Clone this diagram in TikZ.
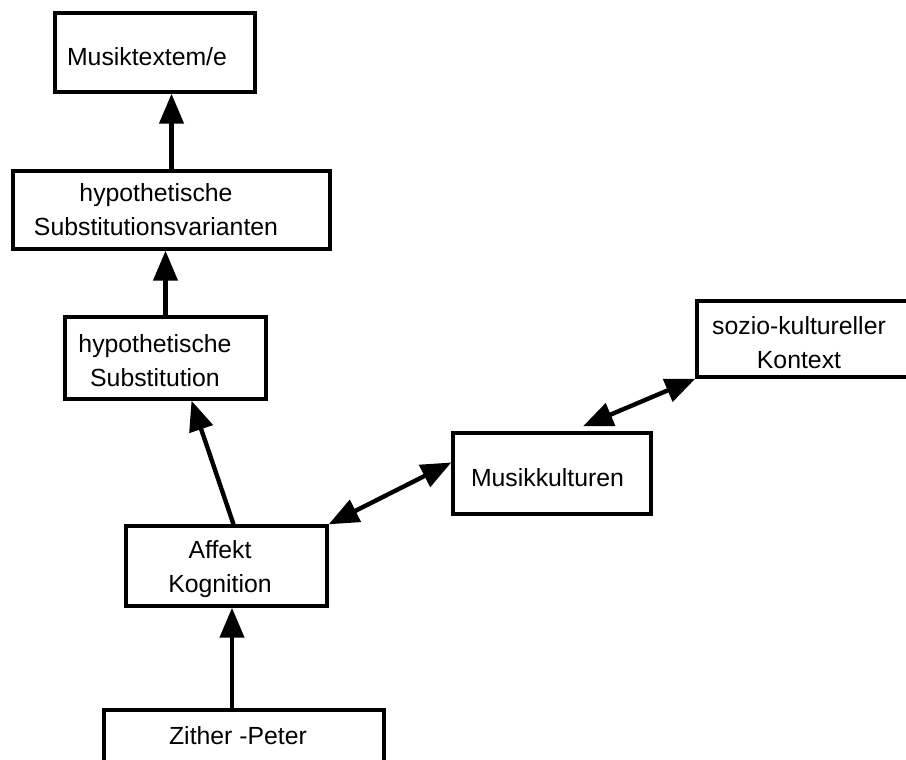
\documentclass[tikz,border=0pt]{standalone}
\usepackage{fontspec}
\setmainfont{Liberation Sans}
\usetikzlibrary{arrows.meta}
\definecolor{inkblack}{RGB}{0,0,0}

\begin{document}
\begin{tikzpicture}[x=1pt, y=-1pt,
  box/.style={draw=inkblack, line width=3.4pt, inner sep=0pt},
  txt/.style={font=\fontsize{24.8}{34}\selectfont, align=center, inner sep=0pt},
  arr/.style={draw=inkblack, line width=4.4pt, -{Triangle[length=30pt,width=24pt]}},
  darr/.style={draw=inkblack, line width=4.4pt, {Triangle[length=30pt,width=24pt]}-{Triangle[length=30pt,width=24pt]}}]
  \useasboundingbox (0,0) rectangle (906,760);
  % Boxes
  \node[box, minimum width=200pt, minimum height=79pt] (mte) at (155,52.5) {};
  \node[box, minimum width=317pt, minimum height=78pt] (hsv) at (171.5,210) {};
  \node[box, minimum width=201pt, minimum height=82pt] (hs) at (165.5,358) {};
  \node[box, minimum width=201pt, minimum height=80pt] (ak) at (226.5,566) {};
  \node[box, minimum width=198pt, minimum height=81pt] (mk) at (552,473.5) {};
  \node[box, minimum width=223pt, minimum height=76pt] (skk) at (808.5,339) {};
  \node[box, minimum width=280pt, minimum height=80pt] (zp) at (244,750) {};
  % Texts
  \node[txt] (mte-t) at (147,57) {Musiktextem/e};
  \node[txt] (hsv-t) at (156,209.5) {hypothetische\\Substitutionsvarianten};
  \node[txt] (hs-t) at (155,361) {hypothetische\\Substitution};
  \node[txt] (ak-t) at (220,569) {Affekt\\Kognition};
  \node[txt] (mk-t) at (547.5,478) {Musikkulturen};
  \node[txt] (skk-t) at (799,342.5) {sozio-kultureller\\Kontext};
  \node[txt] (zp-t) at (238,736) {Zither -Peter};
  % Arrows
  \draw[arr] (hsv.north) -- (hsv.north |- mte.south);
  \draw[arr] (hs.north) -- (hs.north |- hsv.south);
  \draw[arr] ([xshift=7pt]ak.north) -- ([xshift=26pt]hs.south);
  \draw[arr] ([xshift=-12pt]zp.north) -- ([xshift=-12pt]zp.north |- ak.south);
  \draw[darr] (ak.north east) -- ([yshift=11pt]mk.west);
  \draw[darr] ([xshift=31pt,yshift=5pt]mk.north) -- (skk.south west);
\end{tikzpicture}
\end{document}
